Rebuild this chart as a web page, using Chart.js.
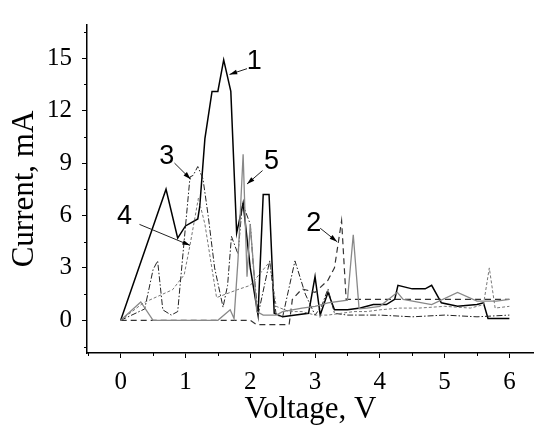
<!DOCTYPE html>
<html>
<head>
<meta charset="utf-8">
<script src="https://cdn.jsdelivr.net/npm/chart.js@4.4.0/dist/chart.umd.min.js"></script>
<style>
  html, body { margin: 0; padding: 0; background: #fff; }
</style>
</head>
<body>
<canvas id="iv" width="534" height="428"></canvas>
<script>
// curve 1 (solid black)
const volt1 = [0, 0.7, 0.88, 1.0, 1.19, 1.22, 1.3, 1.41, 1.5, 1.59, 1.7, 1.73, 1.79, 1.89, 2.0, 2.12, 2.2, 2.29, 2.37, 2.5, 2.7, 2.9, 3.0, 3.08, 3.2, 3.3, 3.5, 3.7, 3.9, 4.1, 4.23, 4.28, 4.5, 4.7, 4.8, 4.95, 5.2, 5.5, 5.6, 5.67, 5.8, 6.0];
const curr1 = [0, 7.5, 4.7, 5.4, 5.8, 6.5, 10.4, 13.1, 13.1, 14.9, 13.1, 10.4, 5.0, 6.7, 3.0, 0.3, 7.2, 7.2, 0.4, 0.2, 0.3, 0.4, 2.5, 0.3, 1.6, 0.6, 0.6, 0.7, 0.9, 0.9, 1.2, 2.0, 1.8, 1.8, 2.0, 1.0, 0.8, 0.9, 1.0, 0.1, 0.1, 0.1];

// curve 2 (dashed)
const volt2 = [0, 0.5, 1.0, 1.5, 2.0, 2.1, 2.6, 2.65, 2.8, 3.0, 3.2, 3.3, 3.41, 3.48, 4.0, 5.0, 6.0];
const curr2 = [0, 0, 0, 0, 0, -0.25, -0.25, 1.2, 1.8, 1.6, 2.3, 3.0, 5.7, 1.2, 1.2, 1.2, 1.2];

// curve 3 (dash-dot)
const volt3 = [0, 0.37, 0.5, 0.57, 0.65, 0.78, 0.88, 1.07, 1.12, 1.19, 1.27, 1.35, 1.45, 1.58, 1.65, 1.71, 1.81, 1.88, 2.0, 2.05, 2.12, 2.3, 2.4, 2.5, 2.69, 2.85, 3.0, 3.1, 3.2, 3.3, 3.5, 4.0, 4.5, 5.0, 5.5, 6.0];
const curr3 = [0, 0.65, 2.9, 3.4, 0.6, 0.3, 0.5, 8.2, 8.3, 8.8, 8.1, 6.0, 3.0, 0.75, 2.0, 4.8, 3.8, 6.7, 5.5, 3.0, 0.3, 3.4, 0.3, 0.2, 3.4, 1.5, 0.3, 0.8, 1.8, 0.4, 0.3, 0.3, 0.2, 0.3, 0.2, 0.3];

// curve 4 (short dash)
const volt4 = [0, 0.35, 0.8, 0.98, 1.07, 1.2, 1.3, 1.48, 1.8, 2.0, 2.3, 2.4, 2.6, 2.8, 3.0, 3.2, 3.4, 3.6, 3.8, 4.0, 4.3, 4.6, 5.0, 5.4, 5.6, 5.69, 5.78, 6.0];
const curr4 = [0, 1.0, 1.75, 2.6, 4.3, 7.0, 5.5, 1.3, 1.75, 2.0, 3.35, 0.8, 0.5, 0.5, 0.3, 0.3, 0.4, 0.5, 0.5, 0.6, 0.7, 0.7, 0.8, 0.7, 0.9, 3.0, 0.7, 0.8];

// curve 5 (solid grey)
const volt5 = [0, 0.31, 0.5, 1.0, 1.5, 1.69, 1.75, 1.81, 1.89, 1.95, 2.0, 2.05, 2.1, 2.2, 2.4, 2.5, 2.8, 3.0, 3.2, 3.5, 3.59, 3.68, 3.8, 4.0, 4.27, 4.36, 4.8, 5.2, 5.5, 5.8, 6.0];
const curr5 = [0, 1.05, 0, 0, 0, 0.6, 0.1, 3.4, 9.5, 2.5, 5.5, 3.1, 0.5, 0.3, 0.3, 0.5, 0.7, 0.8, 1.0, 1.15, 4.9, 0.66, 0.7, 0.8, 1.6, 1.2, 0.9, 1.6, 1.1, 1.1, 1.2];

// curve labels with arrows, in axis units
const labelText = ["1", "2", "3", "4", "5"];
const labelV = [2.06, 2.98, 0.71, 0.06, 2.33];
const labelI = [14.8, 5.55, 9.4, 5.93, 9.07];
const arrowFromV = [1.95, 3.08, 0.83, 0.29, 2.19];
const arrowFromI = [14.4, 5.27, 9.0, 5.49, 8.57];
const arrowToV = [1.68, 3.34, 1.08, 1.07, 1.95];
const arrowToI = [14.07, 4.5, 8.08, 4.29, 7.8];

function pts(vs, is) {
  return vs.map((v, k) => ({ x: v, y: is[k] }));
}

const serif = "'Liberation Serif', 'Times New Roman', serif";

const extras = {
  id: "extras",
  afterDraw(chart) {
    const ctx = chart.ctx;
    const xs = chart.scales.x;
    const ys = chart.scales.y;
    const area = chart.chartArea;
    ctx.save();
    // minor ticks
    ctx.strokeStyle = "#000";
    ctx.lineWidth = 1;
    ctx.beginPath();
    for (let v = -0.5; v <= 6.5; v += 1) {
      const px = Math.round(xs.getPixelForValue(v)) + 0.5;
      if (px < area.left || px > area.right) continue;
      ctx.moveTo(px, area.bottom);
      ctx.lineTo(px, area.bottom + 3);
    }
    for (let c = -1.5; c <= 16.5; c += 3) {
      const py = Math.round(ys.getPixelForValue(c)) + 0.5;
      ctx.moveTo(area.left, py);
      ctx.lineTo(area.left - 3, py);
    }
    ctx.stroke();

    // labels and arrows
    ctx.fillStyle = "#000";
    ctx.strokeStyle = "#222";
    ctx.font = "27px 'Liberation Sans', Arial, sans-serif";
    ctx.textAlign = "center";
    ctx.textBaseline = "middle";
    for (let k = 0; k < labelText.length; k++) {
      ctx.fillText(labelText[k], xs.getPixelForValue(labelV[k]), ys.getPixelForValue(labelI[k]));
      const x0 = xs.getPixelForValue(arrowFromV[k]);
      const y0 = ys.getPixelForValue(arrowFromI[k]);
      const x1 = xs.getPixelForValue(arrowToV[k]);
      const y1 = ys.getPixelForValue(arrowToI[k]);
      const a = Math.atan2(y1 - y0, x1 - x0);
      ctx.lineWidth = 1;
      ctx.beginPath();
      ctx.moveTo(x0, y0);
      ctx.lineTo(x1, y1);
      ctx.stroke();
      ctx.beginPath();
      ctx.moveTo(x1, y1);
      ctx.lineTo(x1 - 8 * Math.cos(a - 0.3), y1 - 8 * Math.sin(a - 0.3));
      ctx.lineTo(x1 - 8 * Math.cos(a + 0.3), y1 - 8 * Math.sin(a + 0.3));
      ctx.closePath();
      ctx.fill();
    }
    ctx.restore();
  }
};

new Chart(document.getElementById("iv"), {
  type: "scatter",
  data: {
    datasets: [
      { data: pts(volt4, curr4), borderColor: "#777", borderWidth: 1, borderDash: [3, 2] },
      { data: pts(volt5, curr5), borderColor: "#888", borderWidth: 1.3 },
      { data: pts(volt2, curr2), borderColor: "#333", borderWidth: 1.2, borderDash: [6, 4] },
      { data: pts(volt3, curr3), borderColor: "#222", borderWidth: 1, borderDash: [6, 2, 1.5, 2] },
      { data: pts(volt1, curr1), borderColor: "#000", borderWidth: 1.5 }
    ]
  },
  options: {
    responsive: false,
    animation: false,
    showLine: true,
    elements: { point: { radius: 0 }, line: { tension: 0, fill: false } },
    layout: { padding: { top: 12, right: 0, left: 0, bottom: 0 } },
    plugins: { legend: { display: false }, tooltip: { enabled: false } },
    scales: {
      x: {
        type: "linear",
        min: -0.52,
        max: 6.38,
        afterFit(s) { s.height = 75; },
        border: { display: true, color: "#000", width: 1.5 },
        grid: { drawOnChartArea: false, drawTicks: true, tickLength: 5, color: "#000" },
        ticks: { stepSize: 1, includeBounds: false, color: "#000", padding: 9,
                 font: { family: serif, size: 25 }, maxRotation: 0 },
        title: { display: true, text: "Voltage, V", color: "#000",
                 font: { family: serif, size: 31 }, padding: { top: 0, bottom: 0 } }
      },
      y: {
        type: "linear",
        min: -1.87,
        max: 16.9,
        afterFit(s) { s.width = 87; },
        border: { display: true, color: "#000", width: 1.5 },
        grid: { drawOnChartArea: false, drawTicks: true, tickLength: 5, color: "#000" },
        ticks: { stepSize: 3, includeBounds: false, color: "#000", padding: 10,
                 font: { family: serif, size: 25 } },
        title: { display: true, text: "Current, mA", color: "#000",
                 font: { family: serif, size: 31 }, padding: { top: 6, bottom: 0 } }
      }
    }
  },
  plugins: [extras]
});
</script>
</body>
</html>
